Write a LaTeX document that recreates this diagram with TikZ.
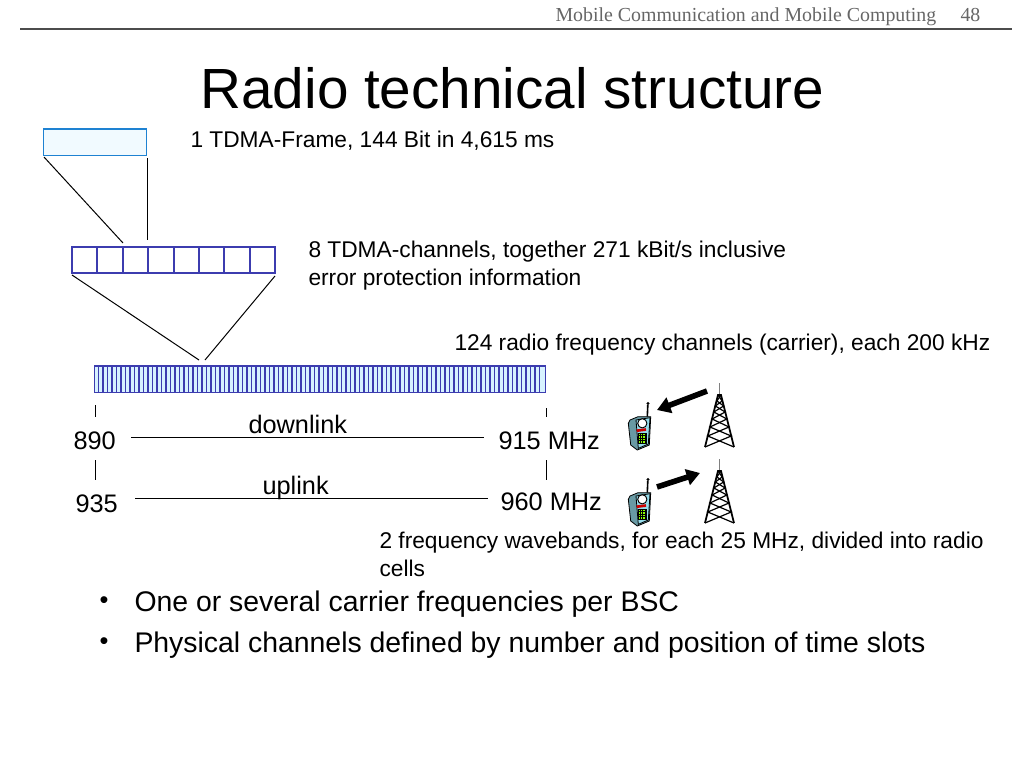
\documentclass[tikz,border=0pt]{standalone}
\usepackage{fontspec}
\setmainfont{Liberation Sans}
\newfontfamily\headfont{Liberation Serif}
\usetikzlibrary{arrows.meta}

\definecolor{cellblue}{RGB}{60,60,175}
\definecolor{framblue}{RGB}{30,130,210}
\definecolor{barfill}{RGB}{215,242,255}
\definecolor{phoneblue}{RGB}{150,220,235}

\tikzset{every picture/.style={line width=0.75pt}}
\tikzset{
  txtlabel/.style={anchor=north west,inner sep=0.75pt,align=left,font=\fontsize{17.05}{21}\selectfont},
  biglabel/.style={anchor=north west,inner sep=0.75pt,align=left,font=\fontsize{19}{23}\selectfont},
  itemtext/.style={anchor=north west,inner sep=0.75pt,font=\fontsize{21.3}{25}\selectfont},
  headtxt/.style={anchor=north west,inner sep=0.75pt,text=black!60,font=\headfont\fontsize{14.9}{18}\selectfont},
  tdmaslot/.style={draw=cellblue,line width=1.4pt,minimum width=19pt,minimum height=19.5pt,inner sep=0pt,outer sep=0pt},
  bigarrow/.style={line width=4.2pt,-{Triangle[length=10pt,width=12pt]}},
  pics/tower/.style={code={
    \draw[line width=0.5pt,gray] (0,-64) -- (0,-52);
    \draw[line width=1.3pt] (-14.5,0) -- (-1.5,-52) -- (1.5,-52) -- (14.5,0);
    \draw[line width=0.9pt] (-14.5,0) -- (11.7,-11) -- (-9.5,-20) -- (7.4,-28) -- (-5.7,-35) -- (4.2,-41) -- (-2.6,-46) -- (1.5,-52);
    \draw[line width=0.9pt] (14.5,0) -- (-11.7,-11) -- (9.5,-20) -- (-7.4,-28) -- (5.7,-35) -- (-4.2,-41) -- (2.6,-46) -- (-1.5,-52);
  }},
  pics/phone/.style={code={
    \draw[line width=0.6pt,fill=phoneblue!70!black] (-10,-5) -- (-2,-8.3) -- (10.7,-8.3) -- (9.3,20) -- (-2.7,25) -- (-9.3,20) -- (-11.7,-1.7) -- cycle;
    \draw[line width=0.6pt,fill=phoneblue] (-4,-5) -- (10,-7.3) -- (8.3,19) -- (-1.7,23.3) -- cycle;
    \draw[line width=0.7pt,fill=white] (2.3,-1.7) circle (4.6);
    \draw[line width=2pt,red!80!black] (-3.3,5.7) -- (6,4.5);
    \draw[line width=0.3pt,fill=green!45!yellow] (-1.7,8.3) rectangle (6,18);
    \draw[line width=0.3pt,step=2.6] (-1.7,8.3) grid (6,18);
    \draw[line width=1.2pt] (7.3,-8.3) -- (7.8,-20);
    \fill (8,-21.5) circle (1.6);
  }},
}

\begin{document}
\begin{tikzpicture}[x=0.75pt,y=0.75pt,yscale=-1,xscale=1]
\useasboundingbox (0,0) rectangle (1024,768);

%Header
\draw (554,6) node (headtext) [headtxt] {Mobile Communication and Mobile Computing};
\draw (959,7) node (headnum) [headtxt] {48};
\coordinate (ruleL) at (20,29);
\coordinate (ruleR) at (1012,29);
\draw[black!70,line width=1pt] (ruleL) -- (ruleR);

% Text Node
\draw (199,66) node (title) [anchor=north west][inner sep=0.75pt] [font=\fontsize{42.5}{48}\selectfont] {Radio technical structure};

%Frame
\draw (42.5,128) node (frame) [anchor=north west][draw=framblue,line width=1.2pt,fill=barfill!35,minimum width=77.5pt,minimum height=20pt,inner sep=0pt] {};
\coordinate (frameL) at (44,157);
\coordinate (frameR) at (147,158);
\coordinate (slotL) at (123,243);
\coordinate (slotR) at (147,240);
\draw (frameL) -- (slotL);
\draw (frameR) -- (slotR);

%Slots
\foreach \n in {1,...,8}
  \draw ({72+(\n-1)*25.4},247) node (slot\n) [anchor=north west][tdmaslot] {};

%Bar
\draw (93.5,365) node (bar) [anchor=north west][draw=cellblue,line width=1.2pt,fill=barfill,minimum width=338.5pt,minimum height=20pt,inner sep=0pt] {};
\foreach \n in {1,...,99}
  \draw[cellblue,line width=0.8pt] ({94+\n*4.5},365) -- ({94+\n*4.5},392);
\coordinate (barL) at (199,360);
\coordinate (barR) at (205,360);
\coordinate (slotBL) at (72,275);
\coordinate (slotBR) at (275,276);
\draw (slotBL) -- (barL);
\draw (slotBR) -- (barR);

% Text Node
\draw (189,130) node (framelabel) [txtlabel] {1 TDMA-Frame, 144 Bit in 4,615 ms};
\draw (307,240) node (slotlabel) [txtlabel] {8 TDMA-channels, together 271 kBit/s inclusive\\error protection information};
\draw (453,333) node (barlabel) [txtlabel] {124 radio frequency channels (carrier), each 200 kHz};
\draw (378,531) node (bandlabel) [txtlabel] {2 frequency wavebands, for each 25 MHz, divided into radio\\cells};

% Text Node
\draw (72,430) node (fa) [biglabel] {890};
\draw (497,430) node (fb) [biglabel] {915 MHz};
\draw (74,493) node (fc) [biglabel] {935};
\draw (499,491) node (fd) [biglabel] {960 MHz};
\draw (247,414) node (down) [biglabel] {downlink};
\draw (261,475) node (up) [biglabel] {uplink};

%Straight Lines
\draw ([shift={(14,-3)}]fa.east) -- ([shift={(-13,-3)}]fb.west);
\draw ([shift={(16,-5)}]fc.east) -- ([shift={(-11,-3)}]fd.west);

%Ticks
\coordinate (tickAa) at (95,405);
\coordinate (tickAb) at (95,417);
\coordinate (tickBa) at (546,408);
\coordinate (tickBb) at (546,417);
\coordinate (tickCa) at (95,460);
\coordinate (tickCb) at (95,480);
\coordinate (tickDa) at (546,460);
\coordinate (tickDb) at (546,480);
\draw (tickAa) -- (tickAb);
\draw (tickBa) -- (tickBb);
\draw (tickCa) -- (tickCb);
\draw (tickDa) -- (tickDb);

%Phones and towers
\pic[transform shape] at (640,425) {phone};
\pic[transform shape] at (640,501) {phone};
\pic[transform shape] at (719.5,447) {tower};
\pic[transform shape] at (719.5,523) {tower};
\coordinate (downtail) at (707,391);
\coordinate (downtip) at (657,410);
\coordinate (uptail) at (657,487);
\coordinate (uptip) at (700,473);
\draw[bigarrow] (downtail) -- (downtip);
\draw[bigarrow] (uptail) -- (uptip);

% Bullets
\draw (98,595) node (dotA) [anchor=north west][inner sep=0.75pt] [font=\fontsize{19}{22}\selectfont] {•};
\draw (133,589) node (itemA) [itemtext] {One or several carrier frequencies per BSC};
\draw (98,636) node (dotB) [anchor=north west][inner sep=0.75pt] [font=\fontsize{19}{22}\selectfont] {•};
\draw (133,630) node (itemB) [itemtext] {Physical channels defined by number and position of time slots};

\end{tikzpicture}
\end{document}
